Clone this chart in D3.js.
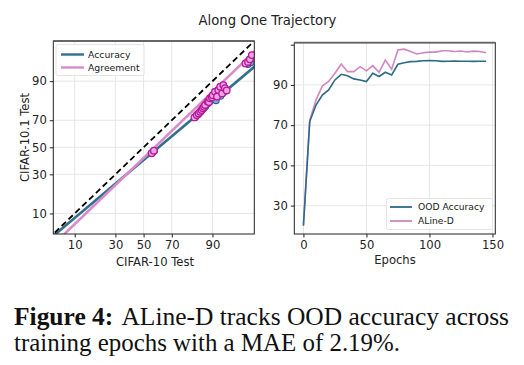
<!DOCTYPE html>
<html><head><meta charset="utf-8">
<script src="https://cdn.jsdelivr.net/npm/d3@7"></script>
<style>body{margin:0;background:#fff}svg{display:block}text{font-family:"DejaVu Sans",sans-serif}</style>
</head><body>
<svg id="c" width="524" height="365"></svg>
<script>
// ---- data ----
const titleText = "Along One Trajectory";
const probitTicks = [10, 30, 50, 70, 90];
// Left panel: agreement points (ID agreement, OOD agreement), %
const agreeID  = [56.0, 57.6, 82.8, 83.9, 84.7, 85.4, 86.0, 86.5, 87.0, 87.4, 88.3, 88.8, 89.2, 89.8, 90.1, 90.8, 91.4, 91.8, 92.3, 92.8, 93.1, 93.5, 93.9, 97.1, 97.4, 97.6, 97.8];
const agreeOOD = [45.4, 47.4, 71.9, 73.4, 74.4, 75.5, 76.5, 77.5, 78.4, 79.4, 81.2, 81.0, 82.9, 83.4, 84.4, 85.9, 83.7, 86.7, 88.0, 85.2, 88.6, 87.4, 86.5, 94.8, 95.1, 95.6, 96.3];
// Left panel: accuracy points (ID accuracy, OOD accuracy), %
const accID  = [56.3, 57.8, 83.2, 84.3, 85.2, 86.0, 86.8, 87.5, 88.2, 88.9, 89.6, 90.3, 91.1, 91.6, 92.4, 93.1, 93.6, 97.4, 97.7];
const accOOD = [45.8, 47.2, 72.0, 73.6, 75.0, 76.3, 77.6, 78.6, 79.9, 81.0, 82.4, 83.0, 81.8, 84.6, 84.0, 85.7, 86.2, 94.6, 95.0];
// Fitted lines in probit space: probit(OOD) = slope * probit(ID) + bias
const fitSlope = {Accuracy: 0.876, Agreement: 1.0};
const fitBias  = {Accuracy: -0.246, Agreement: -0.207};
// Right panel
const epochs  = [0, 5, 10, 15, 20, 25, 30, 35, 40, 45, 50, 55, 60, 65, 70, 75, 80, 85, 90, 95, 100, 105, 110, 115, 120, 125, 130, 135, 140, 145];
const oodAcc  = [20.0, 71.8, 80.0, 85.0, 87.5, 92.5, 95.3, 94.6, 93.0, 92.5, 91.7, 95.8, 94.2, 96.3, 95.0, 100.3, 101.0, 101.6, 101.7, 102.0, 102.1, 102.0, 101.7, 101.8, 101.9, 101.8, 101.8, 101.7, 101.8, 101.8];
const alineD  = [20.5, 72.5, 82.5, 89.5, 91.7, 95.8, 100.4, 96.6, 96.6, 99.1, 97.0, 99.6, 96.3, 102.4, 97.8, 107.4, 107.8, 106.6, 105.4, 106.0, 106.3, 106.3, 107.0, 107.0, 106.6, 106.9, 106.4, 106.8, 106.6, 106.0];
const epochTicks = [0, 50, 100, 150];
const rightYTicks = [30, 50, 70, 90, 110];
const rightYLabels = ["30", "50", "70", "90", ""];
const captionBold = "Figure 4:";
const captionLine1 = "ALine-D tracks OOD accuracy across";
const captionLine2 = "training epochs with a MAE of 2.19%.";

// ---- helpers ----
function probit(p){ // Acklam inverse normal CDF
  const a=[-3.969683028665376e+01,2.209460984245205e+02,-2.759285104469687e+02,1.383577518672690e+02,-3.066479806614716e+01,2.506628277459239e+00];
  const b=[-5.447609879822406e+01,1.615858368580409e+02,-1.556989798598866e+02,6.680131188771972e+01,-1.328068155288572e+01];
  const c=[-7.784894002430293e-03,-3.223964580411365e-01,-2.400758277161838e+00,-2.549732539343734e+00,4.374664141464968e+00,2.938163982698783e+00];
  const d=[7.784695709041462e-03,3.224671290700398e-01,2.445134137142996e+00,3.754408661907416e+00];
  const pl=0.02425;let q,r;
  if(p<pl){q=Math.sqrt(-2*Math.log(p));return (((((c[0]*q+c[1])*q+c[2])*q+c[3])*q+c[4])*q+c[5])/((((d[0]*q+d[1])*q+d[2])*q+d[3])*q+1);}
  if(p>1-pl){q=Math.sqrt(-2*Math.log(1-p));return -(((((c[0]*q+c[1])*q+c[2])*q+c[3])*q+c[4])*q+c[5])/((((d[0]*q+d[1])*q+d[2])*q+d[3])*q+1);}
  q=p-0.5;r=q*q;return (((((a[0]*r+a[1])*r+a[2])*r+a[3])*r+a[4])*r+a[5])*q/(((((b[0]*r+b[1])*r+b[2])*r+b[3])*r+b[4])*r+1);
}
function cdf(z){
  const t=1/(1+0.2316419*Math.abs(z));const d=0.3989423*Math.exp(-z*z/2);
  let p=d*t*(0.3193815+t*(-0.3565638+t*(1.781478+t*(-1.821256+t*1.330274))));
  return z>0?1-p:p;
}
function probitScale(zlo, zhi, range){
  const lin=d3.scaleLinear().domain([zlo,zhi]).range(range);
  const s=v=>lin(probit(v/100));
  s.z=z=>lin(z);
  s.range=()=>lin.range();
  s.domain=()=>[100*cdf(zlo),100*cdf(zhi)];
  s.copy=()=>probitScale(zlo,zhi,range);
  return s;
}

const svg=d3.select("#c");
const L={x0:53.3,x1:254.3,y0:41,y1:234};
const R={x0:294.3,x1:495.3,y0:42.7,y1:234};
const zlo=-1.68, zhi=2.06;
const xL=probitScale(zlo,zhi,[L.x0,L.x1]);
const yL=probitScale(zlo,zhi,[L.y1,L.y0]);
const xR=d3.scaleLinear().domain([-7.25,152.25]).range([R.x0,R.x1]);
const yR=d3.scaleLinear().domain([15.9,111]).range([R.y1,R.y0]);

const gridC="#e3e3e3";
const blue="#31708f", pink="#d98bc9", pinkR="#cf86bf", blueR="#2c6a88";
const tickFont=11.6;

// title
svg.append("text").attr("x",267.5).attr("y",25).attr("text-anchor","middle").attr("font-size",13.2).attr("fill","#222").text(titleText);

// ---- left panel ----
const gl=svg.append("g");
gl.append("defs").append("clipPath").attr("id","clipL").append("rect").attr("x",L.x0).attr("y",L.y0).attr("width",L.x1-L.x0).attr("height",L.y1-L.y0);
probitTicks.forEach(t=>{
  gl.append("line").attr("x1",xL(t)).attr("x2",xL(t)).attr("y1",L.y0).attr("y2",L.y1).attr("stroke",gridC).attr("stroke-width",0.9);
  gl.append("line").attr("y1",yL(t)).attr("y2",yL(t)).attr("x1",L.x0).attr("x2",L.x1).attr("stroke",gridC).attr("stroke-width",0.9);
});
const clipG=gl.append("g").attr("clip-path","url(#clipL)");
["Accuracy","Agreement"].forEach(k=>{
  const zs=[zlo-0.1, zhi+0.1];
  clipG.append("line")
    .attr("x1",xL.z(zs[0])).attr("y1",yL.z(fitSlope[k]*zs[0]+fitBias[k]))
    .attr("x2",xL.z(zs[1])).attr("y2",yL.z(fitSlope[k]*zs[1]+fitBias[k]))
    .attr("stroke",k==="Accuracy"?blue:pink).attr("stroke-width",2.6);
});
clipG.append("line").attr("x1",xL.z(zlo-0.1)).attr("y1",yL.z(zlo-0.1)).attr("x2",xL.z(zhi+0.1)).attr("y2",yL.z(zhi+0.1))
  .attr("stroke","#000").attr("stroke-width",1.8).attr("stroke-dasharray","6,3.5");
accID.forEach((v,i)=>{
  clipG.append("circle").attr("cx",xL(v)).attr("cy",yL(accOOD[i])).attr("r",3.2).attr("fill","#7fa6c8").attr("stroke","#2f5f9a").attr("stroke-width",1.1);
});
agreeID.forEach((v,i)=>{
  clipG.append("circle").attr("cx",xL(v)).attr("cy",yL(agreeOOD[i])).attr("r",3.3).attr("fill","#eaa4df").attr("stroke","#b8169c").attr("stroke-width",1.3);
});
const axL=gl.append("g").attr("transform",`translate(0,${L.y1})`).call(d3.axisBottom(xL).tickValues(probitTicks).tickSize(3.5).tickSizeOuter(0).tickPadding(3));
const ayL=gl.append("g").attr("transform",`translate(${L.x0},0)`).call(d3.axisLeft(yL).tickValues(probitTicks).tickSize(3.5).tickSizeOuter(0).tickPadding(3));
[axL,ayL].forEach(a=>{a.select(".domain").remove();a.selectAll("text").attr("font-size",tickFont).attr("fill","#222").attr("font-family","DejaVu Sans");a.selectAll("line").attr("stroke","#222");});
gl.append("rect").attr("x",L.x0).attr("y",L.y0).attr("width",L.x1-L.x0).attr("height",L.y1-L.y0).attr("fill","none").attr("stroke","#222").attr("stroke-width",1);
gl.append("line").attr("x1",L.x0).attr("x2",L.x1).attr("y1",L.y0).attr("y2",L.y0).attr("stroke","#666").attr("stroke-width",1.8);
gl.append("text").attr("x",155).attr("y",266).attr("text-anchor","middle").attr("font-size",11.6).attr("fill","#222").text("CIFAR-10 Test");
gl.append("text").attr("transform",`translate(29,${(L.y0+L.y1)/2}) rotate(-90)`).attr("text-anchor","middle").attr("font-size",11.6).attr("fill","#222").text("CIFAR-10.1 Test");
const lg=gl.append("g");
lg.append("rect").attr("x",56).attr("y",44.5).attr("width",88).attr("height",31).attr("rx",2).attr("fill","#fff").attr("fill-opacity",0.85).attr("stroke","#ddd").attr("stroke-width",0.8);
[["Accuracy",blue,54.5],["Agreement",pink,67.5]].forEach(([t,c,y])=>{
  lg.append("line").attr("x1",61).attr("x2",84).attr("y1",y).attr("y2",y).attr("stroke",c).attr("stroke-width",2.4);
  lg.append("text").attr("x",88).attr("y",y+3.2).attr("font-size",9.3).attr("fill","#222").text(t);
});

// ---- right panel ----
const gr=svg.append("g");
epochTicks.forEach(t=>gr.append("line").attr("x1",xR(t)).attr("x2",xR(t)).attr("y1",R.y0).attr("y2",R.y1).attr("stroke",gridC).attr("stroke-width",0.9));
rightYTicks.slice(0,4).forEach(t=>gr.append("line").attr("y1",yR(t)).attr("y2",yR(t)).attr("x1",R.x0).attr("x2",R.x1).attr("stroke",gridC).attr("stroke-width",0.9));
const line=d3.line().x((d,i)=>xR(epochs[i])).y(d=>yR(d));
gr.append("path").attr("d",line(alineD)).attr("fill","none").attr("stroke",pinkR).attr("stroke-width",1.6);
gr.append("path").attr("d",line(oodAcc)).attr("fill","none").attr("stroke",blueR).attr("stroke-width",1.6);
const axR=gr.append("g").attr("transform",`translate(0,${R.y1})`).call(d3.axisBottom(xR).tickValues(epochTicks).tickSize(3.5).tickSizeOuter(0).tickPadding(3));
const ayR=gr.append("g").attr("transform",`translate(${R.x0},0)`).call(d3.axisLeft(yR).tickValues(rightYTicks).tickFormat((d,i)=>rightYLabels[i]).tickSize(3.5).tickSizeOuter(0).tickPadding(3));
[axR,ayR].forEach(a=>{a.select(".domain").remove();a.selectAll("text").attr("font-size",tickFont).attr("fill","#222").attr("font-family","DejaVu Sans");a.selectAll("line").attr("stroke","#222");});
gr.append("rect").attr("x",R.x0).attr("y",R.y0).attr("width",R.x1-R.x0).attr("height",R.y1-R.y0).attr("fill","none").attr("stroke","#222").attr("stroke-width",1);
gr.append("line").attr("x1",R.x0).attr("x2",R.x1).attr("y1",R.y0).attr("y2",R.y0).attr("stroke","#666").attr("stroke-width",1.8);
gr.append("text").attr("x",395).attr("y",264).attr("text-anchor","middle").attr("font-size",11.6).attr("fill","#222").text("Epochs");
const lr=gr.append("g");
lr.append("rect").attr("x",386.5).attr("y",198.5).attr("width",106).attr("height",31).attr("rx",2).attr("fill","#fff").attr("fill-opacity",0.85).attr("stroke","#ddd").attr("stroke-width",0.8);
[["OOD Accuracy",blueR,207],["ALine-D",pinkR,221]].forEach(([t,c,y])=>{
  lr.append("line").attr("x1",390).attr("x2",412).attr("y1",y).attr("y2",y).attr("stroke",c).attr("stroke-width",1.8);
  lr.append("text").attr("x",418).attr("y",y+3.2).attr("font-size",9.2).attr("fill","#222").text(t);
});

// caption
const cap=svg.append("g").attr("font-size",25).attr("fill","#111");
const t1=cap.append("text").attr("x",14).attr("y",325).style("font-family","'Liberation Serif',serif").attr("textLength",495).attr("lengthAdjust","spacingAndGlyphs");
t1.append("tspan").attr("font-weight","bold").text(captionBold);
t1.append("tspan").attr("dx",8).text(captionLine1);
cap.append("text").attr("x",14).attr("y",351).style("font-family","'Liberation Serif',serif").attr("textLength",386).attr("lengthAdjust","spacingAndGlyphs").text(captionLine2);
</script>
</body></html>
